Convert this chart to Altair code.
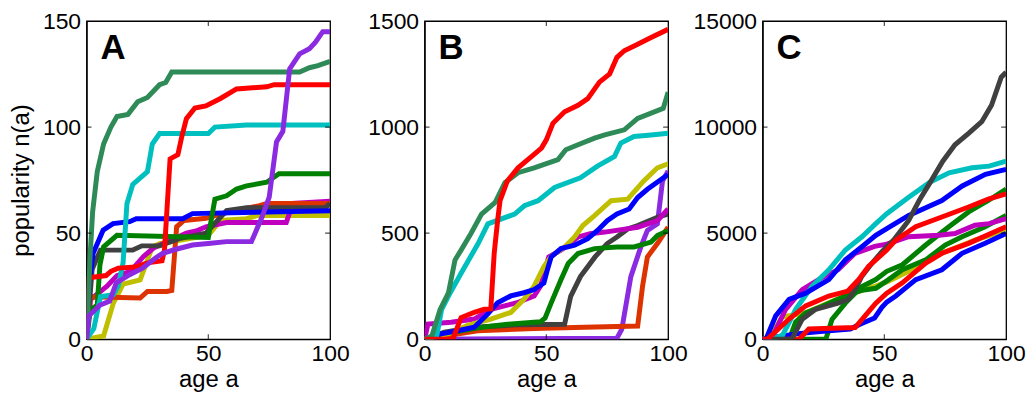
import altair as alt
import pandas as pd

FONT = "Liberation Sans"

# ---------------- Panel A (0..150) ----------------
A_seagreen_age = [0, 0.8, 1.5, 2.5, 4.4, 7, 10, 12.5, 17, 21, 25, 30, 32.5, 35, 87.5, 91.5, 95, 100]
A_seagreen_val = [0, 20, 40, 60, 79, 92, 100, 105, 106, 112, 114, 120, 121, 126, 126, 128, 129, 131]
A_red_age = [0, 1, 8, 10, 13, 20, 25, 31, 32, 34.3, 37.5, 39, 41, 44.5, 49, 55, 61.6, 74, 77, 100]
A_red_val = [0, 29, 30, 32, 33.5, 34, 36, 37, 42, 85, 87, 95, 104, 109, 110, 113.5, 118, 119, 120, 120]
A_cyan_age = [0, 3, 5.7, 11, 13, 15, 16.6, 19, 25, 27, 30, 50, 52.7, 65.7, 100]
A_cyan_val = [0, 5, 20, 21, 25, 36, 64, 73, 79, 92, 97, 97, 100, 101, 101]
A_purple_age = [0, 1, 5.4, 9.5, 12.2, 17.7, 23, 28.6, 31.3, 36.7, 43.5, 51, 57.5, 67.7, 72, 75, 78, 80.6, 83.4, 87.5, 91.5, 94, 97, 100]
A_purple_val = [0, 11, 16, 18, 26.5, 30.4, 33.5, 38.5, 40.5, 42.4, 44.4, 45.2, 46, 46, 57.5, 67, 93, 98, 127.5, 134.5, 137, 140, 145, 145]
A_green_age = [0, 1.6, 4.4, 5.5, 7, 12.5, 50, 51, 52.7, 57.5, 61.6, 65.7, 74, 79, 100]
A_green_val = [0, 14, 16, 35, 43.5, 49, 48, 55, 66, 67.6, 70.8, 72.3, 74, 78, 78]
A_blue_age = [0, 1, 2.7, 6.8, 10.9, 17.7, 20.4, 39.5, 43.5, 100]
A_blue_val = [0, 25, 40.5, 51.4, 54.5, 55.4, 56.8, 56.8, 59.2, 60.6]
A_gray_age = [0, 2.3, 5.7, 19, 22.7, 30, 38, 49, 57.5, 65.7, 98, 100]
A_gray_val = [0, 33, 42, 42, 44, 44, 47.4, 50, 60.6, 62, 62, 64]
A_orange_age = [0, 1.6, 22, 25, 33, 35, 37, 40, 49, 55, 71, 74, 100]
A_orange_val = [0, 20, 19.4, 22.5, 22.5, 23, 53, 56, 57, 59, 63, 64, 64]
A_magenta_age = [0, 1.6, 8.4, 12.5, 18, 23.4, 27.5, 41, 45, 49, 57.5, 82, 84.7, 100]
A_magenta_val = [0, 18.7, 25, 30, 32, 39, 43, 50, 51, 53, 55, 55, 64, 65]
A_olive_age = [0, 7, 11, 15, 22, 27, 30, 50, 55, 65.7, 70, 100]
A_olive_val = [0, 1.5, 17, 26, 28, 43.5, 45, 49, 56, 56.8, 58.3, 58.3]

# ---------------- Panel B (0..1500) ----------------
B_red_age = [0, 11.6, 15, 20.4, 24.5, 27.2, 28.6, 30, 31, 34, 38.4, 44, 48, 50, 52.7, 57.5, 63, 67, 71.8, 76, 79, 82, 87.5, 93, 100]
B_red_val = [0, 0, 102, 126, 141, 143, 405, 560, 653, 746, 808, 862, 901, 940, 1018, 1072, 1103, 1134, 1212, 1251, 1329, 1360, 1391, 1422, 1461]
B_seagreen_age = [0, 3, 6.4, 9.8, 12.5, 15, 19, 23.4, 29, 33, 38.4, 45, 54.8, 58, 63, 69.8, 74, 82, 87.5, 98, 100]
B_seagreen_val = [0, 15, 140, 218, 373, 420, 497, 590, 645, 738, 785, 808, 847, 893, 917, 948, 963, 987, 1041, 1088, 1165]
B_cyan_age = [0, 5, 7, 10.5, 15, 22, 26, 37, 41, 46.6, 53.4, 64, 71, 78, 80.6, 86, 93, 100]
B_cyan_val = [0, 15, 140, 218, 311, 451, 544, 590, 629, 653, 715, 761, 816, 862, 925, 956, 963, 971]
B_olive_age = [0, 11, 17.7, 27.2, 35.4, 40.8, 45, 49, 52, 57.5, 61.6, 65, 69.8, 76.6, 83.4, 90, 95.6, 100]
B_olive_val = [0, 30, 65, 95, 126, 188, 250, 343, 390, 435, 482, 536, 583, 653, 660, 746, 808, 827]
B_blue_age = [0, 6.8, 13.6, 20.4, 25.9, 30, 35.4, 40.8, 45, 49, 50.5, 52, 56, 61.6, 67, 71, 75, 79, 84, 87.5, 91.5, 100]
B_blue_val = [0, 25, 40, 56, 118, 172, 204, 219, 234, 265, 330, 388, 427, 443, 474, 513, 559, 590, 614, 668, 707, 777]
B_magenta_age = [0, 1.4, 10.9, 20.4, 27.2, 38, 45, 47.6, 49.5, 51, 56, 63, 68, 74, 87.5, 95.6, 100]
B_magenta_val = [0, 71, 80, 95, 141, 172, 204, 250, 330, 388, 420, 482, 497, 505, 528, 559, 614]
B_green_age = [0, 7, 22, 34, 47.6, 49.5, 52, 56, 59, 63, 69.8, 79, 86, 93, 95.6, 100]
B_green_val = [0, 23, 54, 70, 82, 100, 171, 280, 357, 404, 427, 435, 435, 458, 489, 513]
B_gray_age = [0, 8.2, 20.4, 38.4, 57.5, 60, 64, 70, 75, 79, 83.4, 87.5, 95.6, 100]
B_gray_val = [0, 33, 56, 68, 70, 202, 295, 388, 451, 482, 520, 536, 575, 590]
B_purple_age = [0, 79, 81, 84.7, 88.8, 91.5, 95.6, 97.7, 100]
B_purple_val = [0, 5, 47, 295, 435, 513, 544, 746, 793]
B_orange_age = [0, 21.8, 45, 65.7, 87.5, 89.5, 91.5, 95.6, 100]
B_orange_val = [0, 40, 50, 56, 62, 249, 388, 451, 528]

# ---------------- Panel C (0..15000) ----------------
C_cyan_age = [0, 5, 8.2, 11, 13.6, 20.4, 27.2, 34, 40.8, 46.5, 51, 60, 68.4, 76.6, 86, 93, 100]
C_cyan_val = [0, 50, 190, 800, 1410, 2500, 3275, 4206, 4830, 5450, 5916, 6690, 7382, 7848, 8081, 8159, 8392]
C_blue1_age = [0, 1.4, 5.4, 10.9, 17.7, 27.2, 34, 40.8, 46.5, 51, 60, 73.6, 82, 91.5, 100]
C_blue1_val = [0, 0, 1100, 1880, 2170, 2810, 3740, 4360, 4900, 5217, 5836, 6540, 7226, 7770, 8003]
C_blue2_age = [0, 13.6, 27.2, 36, 40, 46, 49, 51, 54.7, 62.9, 73.6, 81.9, 91.4, 100]
C_blue2_val = [0, 250, 400, 480, 700, 1000, 1500, 1750, 2035, 2810, 3275, 4050, 4520, 4984]
C_magenta_age = [0, 4, 9.5, 16.3, 23, 31, 38, 46, 51, 60, 72.5, 79, 87.2, 93, 100]
C_magenta_val = [0, 100, 1410, 2340, 2810, 3275, 4050, 4380, 4480, 4830, 4900, 4984, 5370, 5450, 5680]
C_gray_age = [0, 12, 16.3, 21.8, 31, 35, 38, 40.8, 45, 49, 54, 60, 64.3, 68.4, 74, 79, 84.7, 90, 94, 98, 100]
C_gray_val = [0, 0, 946, 1410, 1700, 1860, 2340, 2970, 3590, 4130, 4700, 5600, 6540, 7310, 8392, 9169, 9713, 10256, 11033, 12354, 12587]
C_redA_age = [0, 2, 10.9, 17.7, 27.2, 35, 39.5, 43.5, 46.5, 51, 54.7, 62.9, 73.6, 84.6, 92.7, 100]
C_redA_val = [0, 0, 950, 1570, 2035, 2270, 2810, 3430, 3740, 4206, 4670, 5300, 5760, 6230, 6610, 6850]
C_redB_age = [0, 15, 19, 38, 42, 46.5, 51, 57.4, 67, 73.6, 84.6, 100]
C_redB_val = [0, 0, 480, 550, 1090, 1700, 2170, 2655, 3590, 4050, 4520, 5300]
C_green1_age = [0, 26, 28.5, 34, 38, 40.8, 46.5, 51, 57.4, 67, 76.5, 84.6, 92.7, 100]
C_green1_val = [0, 0, 930, 1700, 2170, 2480, 2810, 3200, 3510, 4440, 5300, 6000, 6540, 7080]
C_green2_age = [0, 11, 13.6, 17.7, 24.5, 35, 40.8, 46.5, 51, 57.4, 67, 75, 81.9, 91.4, 100]
C_green2_val = [0, 0, 810, 1240, 1550, 2090, 2300, 2400, 2750, 3275, 3740, 4440, 4830, 5300, 5836]
C_yellow_age = [0, 3, 8, 17.7, 27, 36.7, 46.5, 51, 60, 73.6, 87.2, 100]
C_yellow_val = [0, 100, 1050, 1240, 1700, 2170, 2500, 2700, 3200, 4050, 4670, 5140]

SEAGREEN = "#2E8B57"
RED = "#FF0000"
CYAN = "#00BFBF"
PURPLE = "#8A2BE2"
GREEN = "#008000"
BLUE = "#0000FF"
GRAY = "#404040"
ORANGE = "#DD3300"
MAGENTA = "#BF00BF"
OLIVE = "#BFBF00"

A_series = [
    (A_olive_age, A_olive_val, OLIVE),
    (A_magenta_age, A_magenta_val, MAGENTA),
    (A_orange_age, A_orange_val, ORANGE),
    (A_gray_age, A_gray_val, GRAY),
    (A_blue_age, A_blue_val, BLUE),
    (A_green_age, A_green_val, GREEN),
    (A_cyan_age, A_cyan_val, CYAN),
    (A_red_age, A_red_val, RED),
    (A_seagreen_age, A_seagreen_val, SEAGREEN),
    (A_purple_age, A_purple_val, PURPLE),
]
B_series = [
    (B_purple_age, B_purple_val, PURPLE),
    (B_orange_age, B_orange_val, ORANGE),
    (B_gray_age, B_gray_val, GRAY),
    (B_green_age, B_green_val, GREEN),
    (B_magenta_age, B_magenta_val, MAGENTA),
    (B_olive_age, B_olive_val, OLIVE),
    (B_blue_age, B_blue_val, BLUE),
    (B_cyan_age, B_cyan_val, CYAN),
    (B_seagreen_age, B_seagreen_val, SEAGREEN),
    (B_red_age, B_red_val, RED),
]
C_series = [
    (C_yellow_age, C_yellow_val, OLIVE),
    (C_green2_age, C_green2_val, GREEN),
    (C_green1_age, C_green1_val, GREEN),
    (C_blue2_age, C_blue2_val, BLUE),
    (C_redB_age, C_redB_val, RED),
    (C_magenta_age, C_magenta_val, MAGENTA),
    (C_cyan_age, C_cyan_val, CYAN),
    (C_blue1_age, C_blue1_val, BLUE),
    (C_gray_age, C_gray_val, GRAY),
    (C_redA_age, C_redA_val, RED),
]

X_TICKS = [0, 50, 100]
X_INNER = [50]
A_YTICKS = [0, 50, 100, 150]
B_YTICKS = [0, 500, 1000, 1500]
C_YTICKS = [0, 5000, 10000, 15000]
LETTERS = ["A", "B", "C"]
Y_TITLE = "popularity n(a)"
X_TITLE = "age a"

W, H = 245, 320


def panel(letter, series, yticks, ytitle):
    xs = alt.Scale(domain=[X_TICKS[0], X_TICKS[-1]], nice=False)
    ys = alt.Scale(domain=[yticks[0], yticks[-1]], nice=False)
    xaxis = alt.Axis(values=X_TICKS, title=X_TITLE, labelFlush=False, ticks=False,
                     tickSize=0, labelPadding=3, titlePadding=3, grid=False)
    yargs = dict(values=yticks, format="d", labelFlush=False, ticks=False, tickSize=0,
                 labelPadding=6, grid=False, labelOverlap=False)
    if ytitle:
        yaxis = alt.Axis(title=ytitle, titlePadding=9, **yargs)
    else:
        yaxis = alt.Axis(title=None, **yargs)
    layers = []
    for ages, vals, color in series:
        df = pd.DataFrame({"age": ages, "n": vals})
        layers.append(
            alt.Chart(df).mark_line(color=color, strokeWidth=5, clip=True).encode(
                x=alt.X("age:Q", scale=xs, axis=xaxis),
                y=alt.Y("n:Q", scale=ys, axis=yaxis),
            )
        )
    inner_y = yticks[1:-1]
    tx = pd.DataFrame({"t": X_INNER})
    ty = pd.DataFrame({"t": inner_y})
    for yv in (0, H):
        layers.append(alt.Chart(tx).mark_tick(orient="vertical", size=10, thickness=1.2,
                                              color="black", clip=True).encode(
            x=alt.X("t:Q", scale=xs, axis=xaxis), y=alt.value(yv)))
    for xv in (0, W):
        layers.append(alt.Chart(ty).mark_tick(orient="horizontal", size=10, thickness=1.2,
                                              color="black", clip=True).encode(
            y=alt.Y("t:Q", scale=ys, axis=yaxis), x=alt.value(xv)))
    layers.append(
        alt.Chart(pd.DataFrame({"L": [letter]})).mark_text(
            font=FONT, fontSize=35, fontWeight="bold", align="left",
            baseline="alphabetic", color="black").encode(
            text="L:N", x=alt.value(14), y=alt.value(38))
    )
    return alt.layer(*layers).properties(width=W, height=H)


chart = alt.hconcat(
    panel(LETTERS[0], A_series, A_YTICKS, Y_TITLE),
    panel(LETTERS[1], B_series, B_YTICKS, None),
    panel(LETTERS[2], C_series, C_YTICKS, None),
    spacing=95,
    bounds="flush",
).properties(
    padding={"left": 0, "top": 0, "right": 0, "bottom": 0}
).configure_view(
    stroke="black", strokeWidth=1.3
).configure_axis(
    labelFont=FONT, labelFontSize=23, labelColor="black",
    titleFont=FONT, titleFontSize=24, titleFontWeight="normal", titleColor="black",
    domainColor="black", domainWidth=1.3,
)

chart.save("out.html", embed_options={"renderer": "svg", "actions": False})
